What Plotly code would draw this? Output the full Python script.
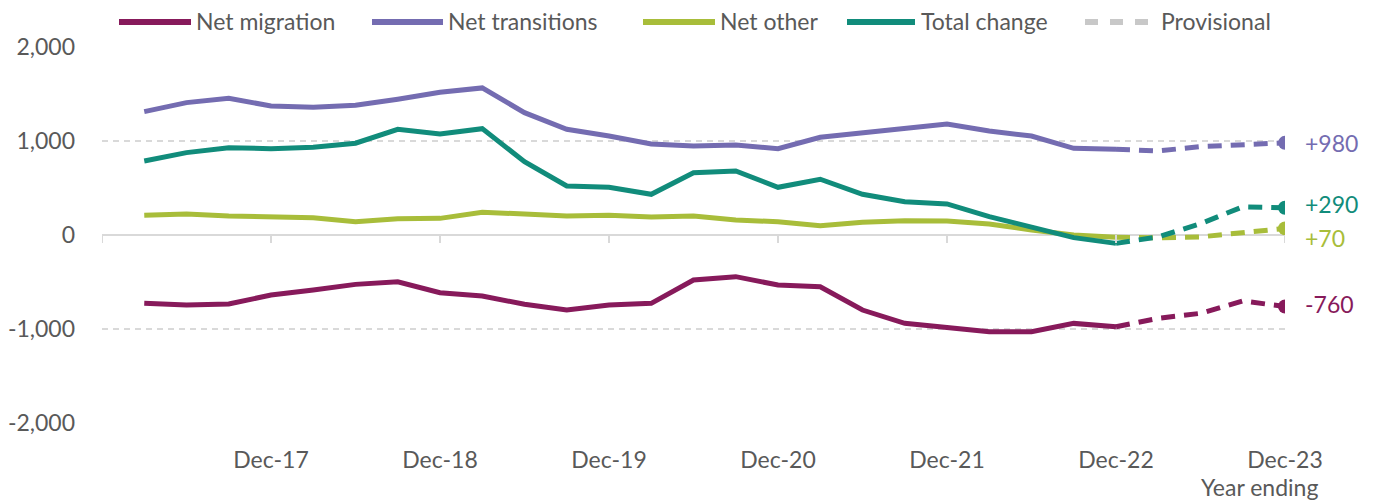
import plotly.graph_objects as go

quarters = ["Mar-17", "Jun-17", "Sep-17", "Dec-17", "Mar-18", "Jun-18", "Sep-18", "Dec-18",
            "Mar-19", "Jun-19", "Sep-19", "Dec-19", "Mar-20", "Jun-20", "Sep-20", "Dec-20",
            "Mar-21", "Jun-21", "Sep-21", "Dec-21", "Mar-22", "Jun-22", "Sep-22", "Dec-22",
            "Mar-23", "Jun-23", "Sep-23", "Dec-23"]
tick_labels = ["Dec-17", "Dec-18", "Dec-19", "Dec-20", "Dec-21", "Dec-22", "Dec-23"]
y_ticks = [-2000, -1000, 0, 1000, 2000]
y_tick_labels = ["-2,000", "-1,000", "0", "1,000", "2,000"]
first_provisional = "Dec-22"

net_migration = [-727, -745, -734, -638, -585, -525, -497, -614, -649, -737, -798, -745, -727, -479,
                 -443, -532, -550, -798, -939, -990, -1028, -1028, -940, -975, -886, -833, -702, -760]
net_transitions = [1312, 1408, 1454, 1372, 1358, 1380, 1444, 1518, 1564, 1301, 1124, 1053, 968, 947,
                   957, 918, 1039, 1088, 1141, 1181, 1106, 1053, 922, 911, 894, 940, 961, 980]
net_other = [210, 223, 202, 195, 184, 141, 173, 177, 241, 223, 202, 209, 191, 202,
             160, 141, 99, 135, 152, 150, 117, 53, 0, -25, -30, -20, 20, 70]
total_change = [787, 876, 929, 918, 933, 976, 1124, 1074, 1131, 780, 521, 507, 433, 663,
                681, 507, 593, 433, 354, 330, 195, 89, -28, -89, -20, 120, 300, 290]

series = [
    ("Net migration", net_migration, "#871A5B", 2),
    ("Net transitions", net_transitions, "#746CB1", 0),
    ("Net other", net_other, "#A8BD3A", -10),
    ("Total change", total_change, "#118C7B", 4),
]

FONT = "Lato"
GREY = "#595959"
GRID = "#D9D9D9"

# pixel helpers for the plot box (left 102, right 1285, top 46, bottom 424)
L, R, T, B = 102, 1285, 46, 424
def px(x):
    return (x - L) / (R - L)
def py(y):
    return (B - y) / (B - T)

k = quarters.index(first_provisional)

fig = go.Figure()
for name, vals, col, shift in series:
    fig.add_trace(go.Scatter(x=quarters[:k + 1], y=vals[:k + 1], mode="lines", name=name,
                             line=dict(color=col, width=5), showlegend=False))
    fig.add_trace(go.Scatter(x=quarters[k:], y=vals[k:], mode="lines", name=name + " (provisional)",
                             line=dict(color=col, width=5, dash="14px,9px"), showlegend=False))
    fig.add_trace(go.Scatter(x=[quarters[-1]], y=[vals[-1]], mode="markers",
                             marker=dict(color=col, size=14), showlegend=False))
    fig.add_annotation(x=quarters[-1], y=vals[-1], text=f"{vals[-1]:+d}", showarrow=False,
                       xanchor="left", yanchor="middle", xshift=18, yshift=shift,
                       font=dict(family=FONT, size=23, color=col))

# tick marks sitting on the zero line
for q in ["Dec-16"] + tick_labels:
    xv = quarters.index(q) if q in quarters else -1
    fig.add_shape(type="line", xref="x", yref="y", x0=xv, x1=xv, y0=0, y1=-8,
                  ysizemode="pixel", yanchor=0, line=dict(color=GRID, width=2))

# legend drawn by hand
legend_items = [("Net migration", "#871A5B", 119, 191, 194),
                ("Net transitions", "#746CB1", 372, 443, 446),
                ("Net other", "#A8BD3A", 643, 715, 718),
                ("Total change", "#118C7B", 847, 915, 919)]
for text, col, x0, x1, xt in legend_items:
    fig.add_shape(type="line", xref="paper", yref="paper", x0=px(x0), x1=px(x1),
                  y0=py(22), y1=py(22), line=dict(color=col, width=6))
    fig.add_annotation(xref="paper", yref="paper", x=px(xt), y=py(21), text=text,
                       showarrow=False, xanchor="left", yanchor="middle",
                       font=dict(family=FONT, size=23, color=GREY))
for x0 in [1085, 1110, 1135]:
    fig.add_shape(type="line", xref="paper", yref="paper", x0=px(x0), x1=px(x0 + 13),
                  y0=py(22), y1=py(22), line=dict(color="#C8C8C8", width=6))
fig.add_annotation(xref="paper", yref="paper", x=px(1159), y=py(21), text="Provisional",
                   showarrow=False, xanchor="left", yanchor="middle",
                   font=dict(family=FONT, size=23, color=GREY))

fig.add_annotation(xref="paper", yref="paper", x=px(1320), y=py(487), text="Year ending",
                   showarrow=False, xanchor="right", yanchor="middle",
                   font=dict(family=FONT, size=23, color=GREY))

fig.update_layout(
    width=1374, height=500,
    margin=dict(l=L, r=1374 - R, t=T, b=500 - B),
    plot_bgcolor="white", paper_bgcolor="white",
    font=dict(family=FONT, size=23, color=GREY),
)
fig.update_xaxes(type="category", categoryorder="array", categoryarray=quarters,
                 range=[-1, len(quarters) - 1], tickvals=tick_labels, ticktext=tick_labels,
                 showgrid=False, showline=False, zeroline=False, ticks="", automargin=False,
                 ticklabelstandoff=20, tickfont=dict(family=FONT, size=23, color=GREY))
fig.update_yaxes(range=[-2010, 2010], tickvals=y_ticks, ticktext=y_tick_labels,
                 showgrid=True, gridcolor=GRID, gridwidth=1.5, automargin=False,
                 griddash="6px,5px", zeroline=True, zerolinecolor=GRID, zerolinewidth=2,
                 showline=False, ticks="", ticklabelstandoff=26,
                 tickfont=dict(family=FONT, size=23, color=GREY))

fig.write_html("out.html", config={"displayModeBar": False},
               post_script="document.body.style.margin='0';")
